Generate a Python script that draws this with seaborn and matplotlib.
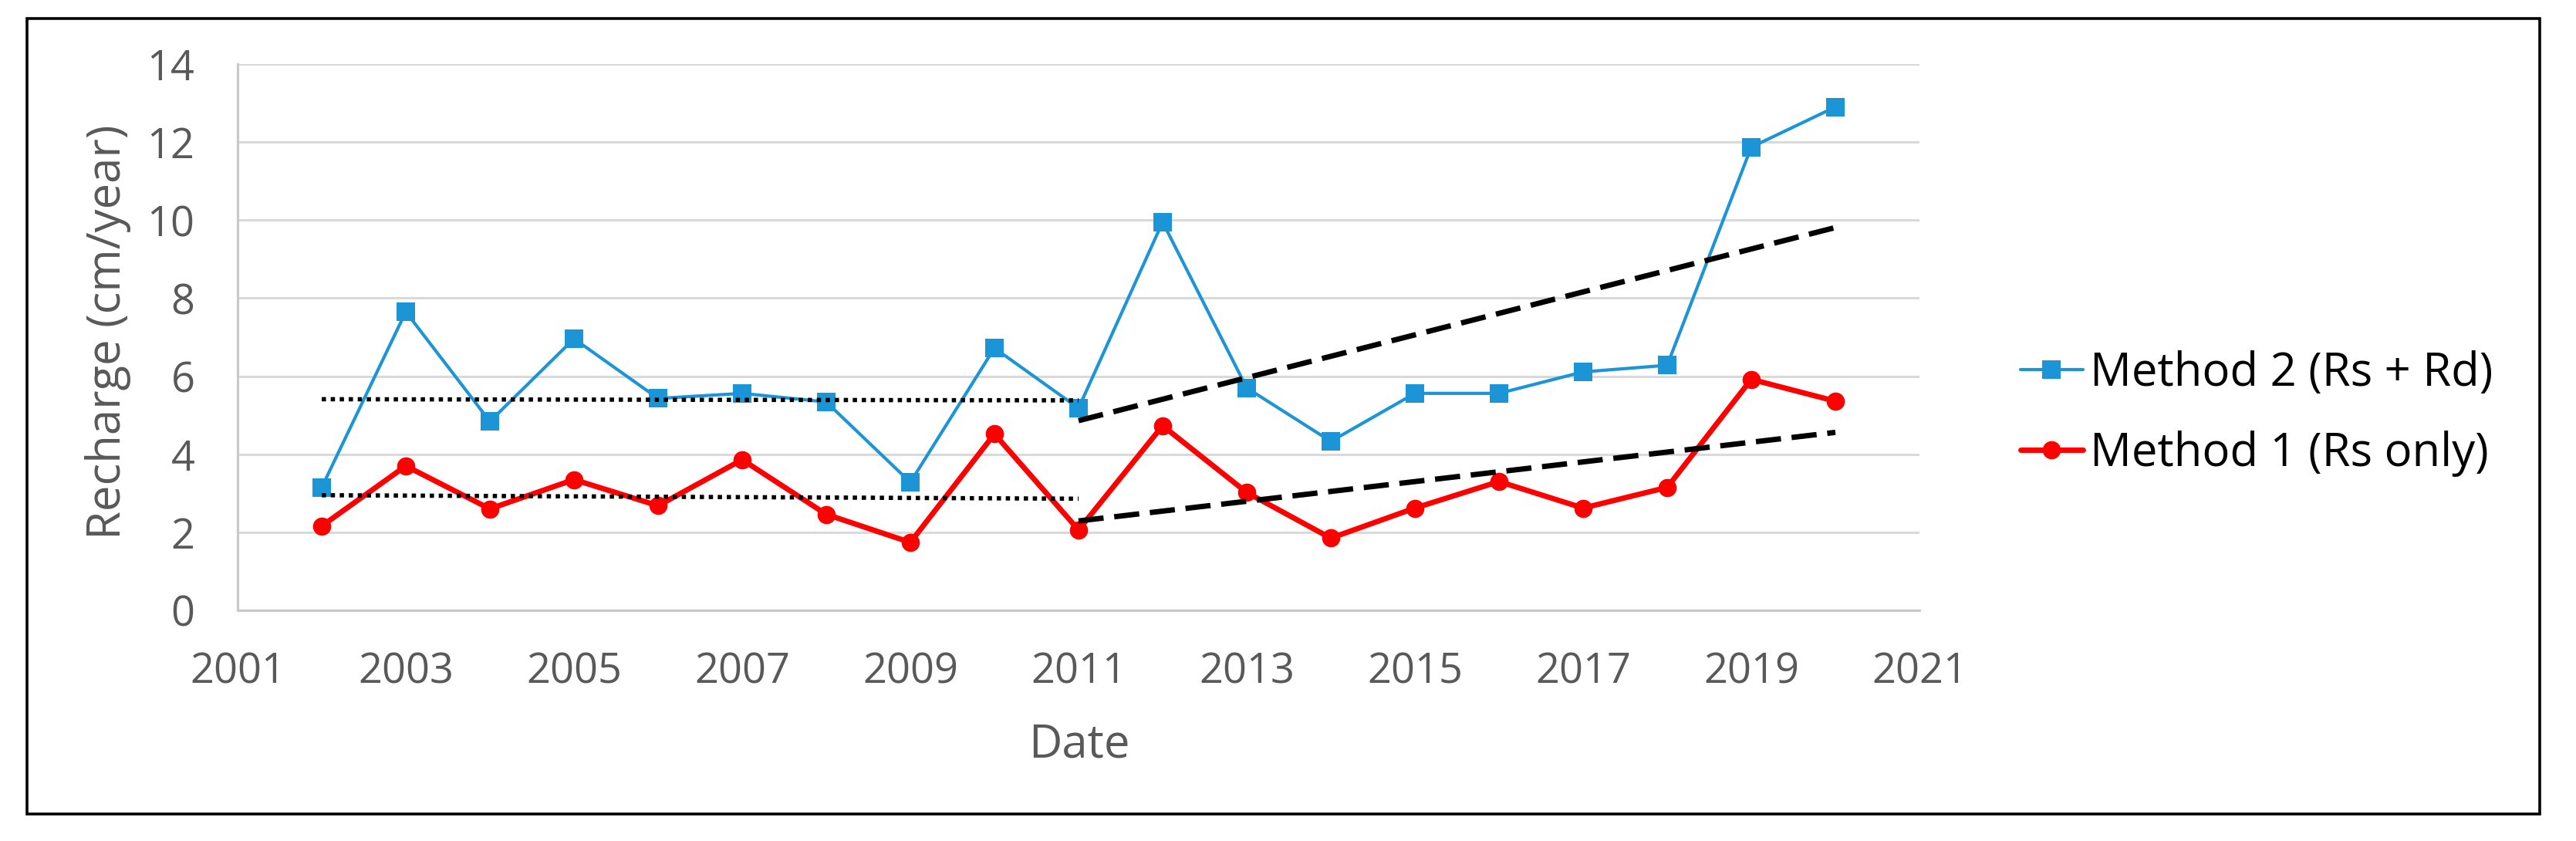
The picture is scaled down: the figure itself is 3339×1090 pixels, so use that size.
import numpy as np
import pandas as pd
import matplotlib
matplotlib.use('Agg')
import matplotlib.pyplot as plt
import matplotlib.patches as mpatches
import seaborn as sns

# values
years = [2002, 2003, 2004, 2005, 2006, 2007, 2008, 2009, 2010, 2011,
         2012, 2013, 2014, 2015, 2016, 2017, 2018, 2019, 2020]
method2 = [3.15, 7.65, 4.84, 6.96, 5.43, 5.56, 5.34, 3.28, 6.72, 5.18,
           9.95, 5.70, 4.33, 5.56, 5.56, 6.11, 6.28, 11.87, 12.90]
method1 = [2.16, 3.70, 2.60, 3.35, 2.68, 3.86, 2.46, 1.74, 4.52, 2.06,
           4.73, 3.02, 1.85, 2.62, 3.30, 2.62, 3.15, 5.92, 5.36]

# trend lines (endpoints)
trend_early_x = [2002, 2011]
trend_early_m2 = [5.41, 5.38]
trend_early_m1 = [2.95, 2.86]
trend_late_x = [2011, 2020]
trend_late_m2 = [4.86, 9.81]
trend_late_m1 = [2.29, 4.56]

labels = ['Method 2 (Rs + Rd)', 'Method 1 (Rs only)']
xticks = list(range(2001, 2022, 2))
yticks = list(range(0, 15, 2))

sns.set_style('white')
plt.rcParams['font.family'] = ['Open Sans', 'DejaVu Sans']

W, H = 3339, 1090
fig = plt.figure(figsize=(W / 100, H / 100), dpi=100)
ax = fig.add_axes([308 / W, 1 - 791 / H, (2488 - 308) / W, (791 - 83) / H])

blue = '#1c95d6'
red = '#ff0000'
grey_txt = '#595959'

sns.lineplot(x=years, y=method2, ax=ax, color=blue, lw=3, marker='s',
             markersize=17, markeredgewidth=0, label=labels[0])
sns.lineplot(x=years, y=method1, ax=ax, color=red, lw=5, marker='o',
             markersize=17, markeredgewidth=0, label=labels[1])

ax.plot(trend_early_x, trend_early_m2, color='black', lw=4, ls=(0, (1, 1.1)))
ax.plot(trend_early_x, trend_early_m1, color='black', lw=4, ls=(0, (1, 1.1)))
ax.plot(trend_late_x, trend_late_m2, color='black', lw=5, ls=(0, (4.7, 2)))
ax.plot(trend_late_x, trend_late_m1, color='black', lw=5, ls=(0, (4.7, 2)))

ax.set_xlim(2001, 2021)
ax.set_ylim(0, 14)
ax.set_xticks(xticks)
ax.set_yticks(yticks)
ax.grid(axis='y', color='#d9d9d9', lw=2.2)
ax.set_axisbelow(True)
for s in ['top', 'right']:
    ax.spines[s].set_visible(False)
for s in ['left', 'bottom']:
    ax.spines[s].set_color('#c8c8c8')
    ax.spines[s].set_linewidth(2.2)
ax.tick_params(axis='both', length=0, labelsize=39, labelcolor=grey_txt)
ax.tick_params(axis='x', pad=38)
ax.tick_params(axis='y', pad=40)
ax.set_xlabel('')
ax.set_ylabel('')

fig.text(140 / W, 1 - 430 / H, 'Recharge (cm/year)', rotation=90,
         ha='center', va='center', fontsize=43, color=grey_txt)
fig.text(1399 / W, 1 - 966 / H, 'Date', ha='center', va='center',
         fontsize=43, color=grey_txt)

leg = ax.legend(loc='center left', bbox_to_anchor=(2619 / W, 1 - 536 / H),
                bbox_transform=fig.transFigure, frameon=False, fontsize=43,
                handlelength=1.35, handletextpad=0.15, labelspacing=0.75,
                borderpad=0, borderaxespad=0)
for t in leg.get_texts():
    t.set_color('black')

fig.patches.append(mpatches.Rectangle((35 / W, 1 - 1055 / H),
                                      (3292 - 35) / W, (1055 - 24) / H,
                                      transform=fig.transFigure, fill=False,
                                      ec='black', lw=2.6))

fig.savefig('out.png', dpi=100)
